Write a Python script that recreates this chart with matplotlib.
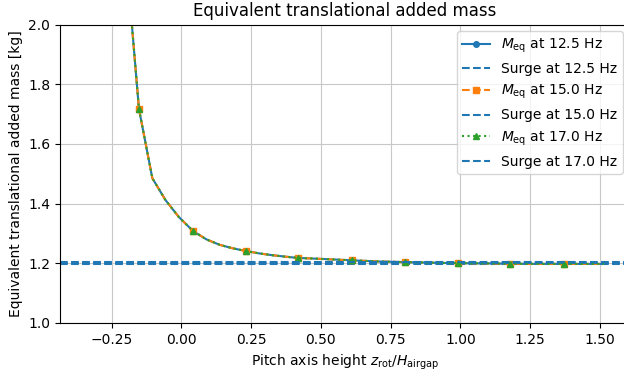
import matplotlib
matplotlib.use("Agg")
import matplotlib.pyplot as plt

# Pitch axis height z_rot / H_airgap
x_ratio = [-0.343, -0.295, -0.247, -0.200, -0.152, -0.104, -0.057, -0.009,
           0.042, 0.090, 0.137, 0.185, 0.232, 0.280, 0.327, 0.375,
           0.418, 0.470, 0.518, 0.565, 0.611, 0.660, 0.708, 0.756,
           0.801, 0.850, 0.900, 0.946, 0.991, 1.040, 1.086, 1.134,
           1.178, 1.230, 1.276, 1.322, 1.372, 1.420, 1.467, 1.515]

# Equivalent translational added mass [kg]
meq_125 = [6.50, 4.00, 2.90, 2.25, 1.717, 1.485, 1.412, 1.355,
           1.308, 1.280, 1.262, 1.250, 1.241, 1.233, 1.227, 1.222,
           1.218, 1.216, 1.214, 1.212, 1.210, 1.208, 1.206, 1.205,
           1.204, 1.203, 1.202, 1.201, 1.201, 1.200, 1.200, 1.199,
           1.199, 1.198, 1.198, 1.198, 1.198, 1.198, 1.198, 1.198]
meq_150 = list(meq_125)
meq_170 = list(meq_125)

# Surge added mass at each frequency [kg]
surge_125 = 1.198
surge_150 = 1.2015
surge_170 = 1.205

freqs = ["12.5", "15.0", "17.0"]

fig = plt.figure(figsize=(6.24, 3.76), dpi=100)
ax = fig.add_axes([60/624, (376-323)/376, 570/624, (323-24.5)/376])

ax.plot(x_ratio, meq_125, color="C0", linestyle="-", marker="o", markersize=4,
        markevery=4, label=r"$M_\mathrm{eq}$ at " + freqs[0] + " Hz")
ax.axhline(surge_125, color="C0", linestyle="--", label="Surge at " + freqs[0] + " Hz")
ax.plot(x_ratio, meq_150, color="C1", linestyle="--", marker="s", markersize=4,
        markevery=4, label=r"$M_\mathrm{eq}$ at " + freqs[1] + " Hz")
ax.axhline(surge_150, color="C0", linestyle="--", label="Surge at " + freqs[1] + " Hz")
ax.plot(x_ratio, meq_170, color="C2", linestyle=":", marker="^", markersize=4,
        markevery=4, label=r"$M_\mathrm{eq}$ at " + freqs[2] + " Hz")
ax.axhline(surge_170, color="C0", linestyle="--", label="Surge at " + freqs[2] + " Hz")

ax.set_xlim(-0.435, 1.608)
ax.set_ylim(1.0, 2.0)
ax.set_xticks([-0.25, 0.0, 0.25, 0.5, 0.75, 1.0, 1.25, 1.5])
ax.set_yticks([1.0, 1.2, 1.4, 1.6, 1.8, 2.0])
ax.grid(True, color="#c8c8c8")
ax.set_title("Equivalent translational added mass")
ax.set_xlabel(r"Pitch axis height $z_\mathrm{rot}/H_\mathrm{airgap}$")
ax.set_ylabel("Equivalent translational added mass [kg]")
ax.legend(loc="upper right")

fig.savefig("out.png", dpi=100)
